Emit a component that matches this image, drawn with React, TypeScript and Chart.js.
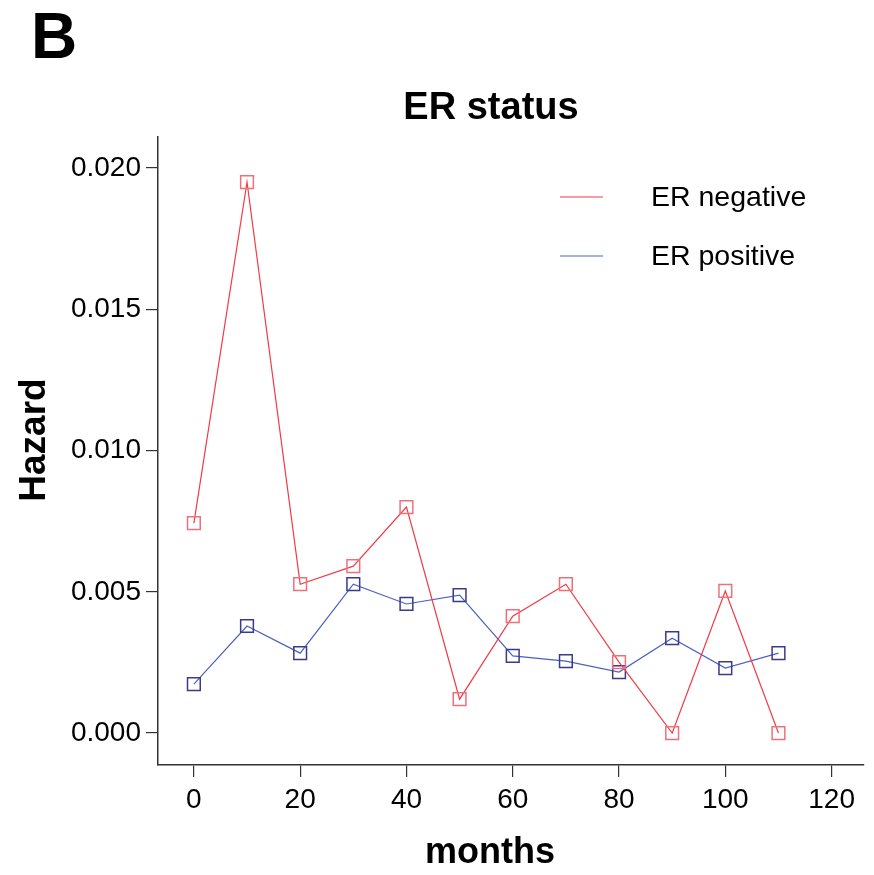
import React, { useEffect, useRef } from "react";
import { Chart, registerables } from "chart.js";

Chart.register(...registerables);

const months = [0, 10, 20, 30, 40, 50, 60, 70, 80, 90, 100, 110];
const erNegative = [0.00743, 0.0195, 0.00527, 0.00591, 0.008, 0.0012, 0.00414, 0.00527, 0.00251, 0.0, 0.00503, 0.0];
const erPositive = [0.00173, 0.00379, 0.00283, 0.00527, 0.00457, 0.00488, 0.00273, 0.00255, 0.00216, 0.00336, 0.0023, 0.00283];
const xTicks = [0, 20, 40, 60, 80, 100, 120];
const yTicks = [0, 0.005, 0.01, 0.015, 0.02];
const seriesLabels = ["ER negative", "ER positive"];

const FONT = "'Liberation Sans', Arial, sans-serif";

const overlay = {
  id: "overlay",
  afterDraw(chart: any) {
    const ctx = chart.ctx;
    ctx.save();
    ctx.fillStyle = "#000";
    // panel letter
    ctx.font = `bold 64px ${FONT}`;
    ctx.textAlign = "left";
    ctx.textBaseline = "alphabetic";
    ctx.fillText("B", 31, 58);
    // title
    ctx.font = `bold 38px ${FONT}`;
    ctx.textAlign = "center";
    ctx.fillText("ER status", 491, 119);
    // x title
    ctx.font = `bold 36px ${FONT}`;
    ctx.fillText("months", 490, 863);
    // y title
    ctx.save();
    ctx.translate(45, 440);
    ctx.rotate(-Math.PI / 2);
    ctx.font = `bold 37px ${FONT}`;
    ctx.fillText("Hazard", 0, 0);
    ctx.restore();
    // legend
    const ds = chart.data.datasets;
    const rows = [197, 256];
    ds.forEach((d: any, i: number) => {
      const y = rows[i];
      ctx.strokeStyle = d.borderColor;
      ctx.lineWidth = 1.2;
      ctx.beginPath();
      ctx.moveTo(560, y);
      ctx.lineTo(603, y);
      ctx.stroke();
      ctx.fillStyle = "#000";
      ctx.font = `28.5px ${FONT}`;
      ctx.textAlign = "left";
      ctx.textBaseline = "middle";
      ctx.fillText(d.label, 651, y + 1);
    });
    ctx.restore();
  },
};

export default function App() {
  const ref = useRef<HTMLCanvasElement>(null);
  useEffect(() => {
    if (!ref.current) return;
    const chart = new Chart(ref.current, {
      type: "line",
      data: {
        datasets: [
          {
            label: seriesLabels[0],
            data: months.map((m, i) => ({ x: m, y: erNegative[i] })),
            borderColor: "#f03c46",
            borderWidth: 1.2,
            pointStyle: "rect",
            pointRadius: 9,
            pointBorderWidth: 1.5,
            pointBorderColor: "#f0707a",
            pointBackgroundColor: "rgba(0,0,0,0)",
            tension: 0,
          },
          {
            label: seriesLabels[1],
            data: months.map((m, i) => ({ x: m, y: erPositive[i] })),
            borderColor: "#4a62c0",
            borderWidth: 1.2,
            pointStyle: "rect",
            pointRadius: 9,
            pointBorderWidth: 1.5,
            pointBorderColor: "#3a3a8c",
            pointBackgroundColor: "rgba(0,0,0,0)",
            tension: 0,
          },
        ],
      },
      options: {
        animation: false,
        responsive: false,
        devicePixelRatio: 1,
        layout: { padding: { left: 0, top: 137, right: 6, bottom: 0 } },
        plugins: { legend: { display: false }, tooltip: { enabled: false }, title: { display: false } },
        scales: {
          x: {
            type: "linear",
            min: -6.75,
            max: 126,
            afterBuildTicks: (s: any) => {
              s.ticks = xTicks.map((v) => ({ value: v }));
            },
            afterFit: (s: any) => {
              s.height = 110;
            },
            grid: { display: true, drawOnChartArea: false, drawTicks: true, tickLength: 12, color: "#333", lineWidth: 1.2 },
            border: { display: true, color: "#333", width: 1.5 },
            ticks: { font: { size: 28, family: FONT }, color: "#000", padding: 6, maxRotation: 0, autoSkip: false },
          },
          y: {
            type: "linear",
            min: -0.00113,
            max: 0.0211,
            afterBuildTicks: (s: any) => {
              s.ticks = yTicks.map((v) => ({ value: v }));
            },
            afterFit: (s: any) => {
              s.width = 158;
            },
            grid: { display: true, drawOnChartArea: false, drawTicks: true, tickLength: 12, color: "#333", lineWidth: 1.2 },
            border: { display: true, color: "#333", width: 1.5 },
            ticks: {
              font: { size: 28, family: FONT },
              color: "#000",
              padding: 5,
              autoSkip: false,
              callback: (v: any) => Number(v).toFixed(3),
            },
          },
        },
      },
      plugins: [overlay],
    });
    return () => chart.destroy();
  }, []);
  return (
    <canvas
      ref={ref}
      width={874}
      height={875}
      style={{ position: "absolute", left: 0, top: 0, width: 874, height: 875, background: "#fff" }}
    />
  );
}
